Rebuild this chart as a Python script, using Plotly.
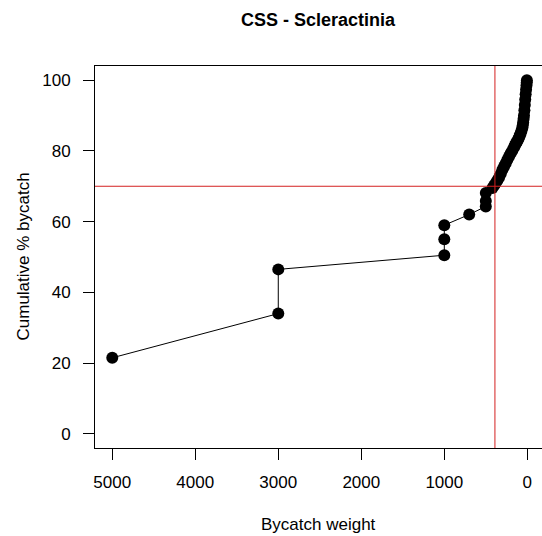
import plotly.graph_objects as go

# Data
weights = [5000, 3000, 3000, 1000, 1000, 1000, 700, 500, 500, 500,
           420, 400, 380, 360, 340, 320, 300, 280, 260, 240,
           220, 200, 180, 160, 150, 140, 130, 120, 110, 100,
           90, 80, 70, 60, 55, 50, 45, 40, 35, 30,
           25, 20, 15, 10, 7, 5]
cum_pct = [21.5, 34, 46.5, 50.5, 55, 59, 62, 64.3, 65.8, 68.1,
           69.5, 70.2, 70.9, 71.7, 72.5, 73.5, 74.7, 75.6, 76.5, 77.5,
           78.4, 79.3, 80.1, 81, 81.5, 82, 82.4, 82.8, 83.3, 83.8,
           84.4, 85, 85.7, 86.5, 87.2, 88, 89, 90, 91.5, 93,
           94.5, 96, 97.3, 98.5, 99.3, 100]
threshold_weight = 390
threshold_pct = 70
x_ticks = [5000, 4000, 3000, 2000, 1000, 0]
y_ticks = [0, 20, 40, 60, 80, 100]

FONT = "Liberation Sans, Arial, sans-serif"

fig = go.Figure()
fig.add_trace(go.Scatter(
    x=weights, y=cum_pct, mode="lines+markers",
    line=dict(color="black", width=1),
    marker=dict(color="black", size=12),
    showlegend=False, hoverinfo="skip"))

fig.add_vline(x=threshold_weight, line=dict(color="#d42020", width=1))
fig.add_hline(y=threshold_pct, line=dict(color="#d42020", width=1))

fig.update_layout(
    width=542, height=536,
    margin=dict(l=95, r=0, t=66, b=88),
    paper_bgcolor="white", plot_bgcolor="white",
    font=dict(family=FONT, size=17, color="black"),
    xaxis=dict(range=[5208, -177], tickvals=x_ticks, ticks="outside",
               ticklen=11, tickcolor="black", tickwidth=1,
               showline=True, linecolor="black", linewidth=1, mirror=True,
               showgrid=False, zeroline=False, ticklabelstandoff=8,
               tickfont=dict(size=17)),
    yaxis=dict(range=[-4, 104], tickvals=y_ticks, ticks="outside",
               ticklen=11, tickcolor="black", tickwidth=1,
               showline=True, linecolor="black", linewidth=1, mirror=False,
               showgrid=False, zeroline=False, ticklabelstandoff=9,
               tickfont=dict(size=17)),
    annotations=[
        dict(text="<b>CSS - Scleractinia</b>", xref="paper", yref="paper",
             x=0.501, y=1 + (66 - 20) / 382, xanchor="center", yanchor="middle",
             showarrow=False, font=dict(size=18)),
        dict(text="Bycatch weight", xref="paper", yref="paper",
             x=0.501, y=-(524 - 448) / 382, xanchor="center", yanchor="middle",
             showarrow=False, font=dict(size=17)),
        dict(text="Cumulative % bycatch", xref="paper", yref="paper",
             x=-(95 - 22.5) / 447, y=0.5, xanchor="center", yanchor="middle",
             textangle=-90, showarrow=False, font=dict(size=17)),
    ],
)

fig.write_html("out.html", config={"displayModeBar": False},
               post_script="document.body.style.margin='0';")
